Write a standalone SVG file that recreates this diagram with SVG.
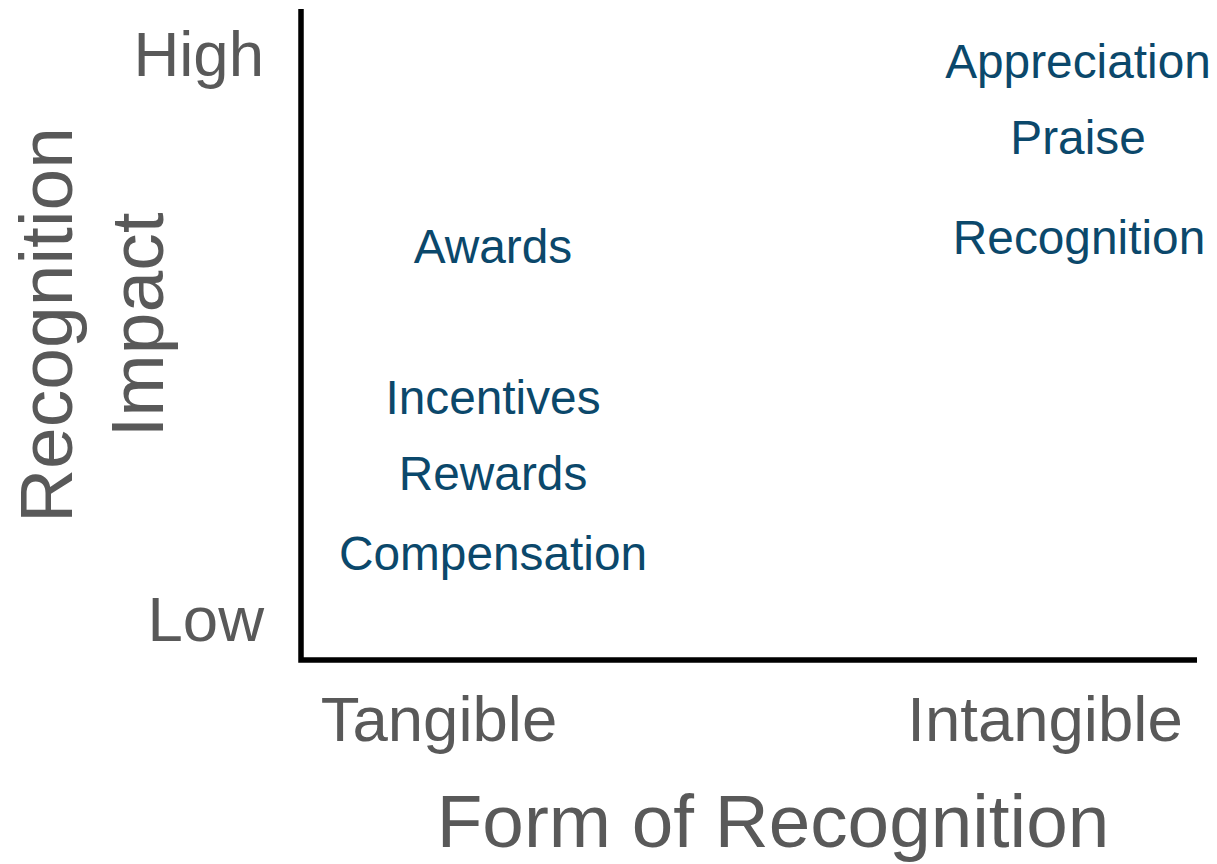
<svg xmlns="http://www.w3.org/2000/svg" width="1217" height="864" viewBox="0 0 1217 864">
  <style>
    .axis { stroke: #000000; stroke-width: 5.5; fill: none; }
    .ax-label { font-family: "Liberation Sans", Arial, sans-serif; fill: #595959; }
    .item { font-family: "Liberation Sans", Arial, sans-serif; fill: #0b486b; font-size: 47.8px; text-anchor: middle; }
  </style>
  <rect width="1217" height="864" fill="#ffffff"/>

  <!-- axes -->
  <g id="connectors">
    <path class="axis" d="M301 9 V660 H1197"/>
  </g>

  <!-- axis labels -->
  <g id="y-title">
    <text class="ax-label" font-size="75" text-anchor="middle" transform="translate(72 325) rotate(-90)">Recognition</text>
    <text class="ax-label" font-size="75" text-anchor="middle" transform="translate(163 325) rotate(-90)">Impact</text>
  </g>
  <g id="y-ticks">
    <text class="ax-label" font-size="63.5" text-anchor="end" x="264" y="76">High</text>
    <text class="ax-label" font-size="63.5" text-anchor="end" x="264" y="641">Low</text>
  </g>
  <g id="x-ticks">
    <text class="ax-label" font-size="63.5" text-anchor="middle" x="439" y="741">Tangible</text>
    <text class="ax-label" font-size="63.5" text-anchor="middle" x="1045" y="741">Intangible</text>
  </g>
  <g id="x-title">
    <text class="ax-label" font-size="74.7" text-anchor="middle" x="773" y="847">Form of Recognition</text>
  </g>

  <!-- tangible forms -->
  <g id="awards"><text class="item" x="493" y="263">Awards</text></g>
  <g id="incentives"><text class="item" x="493" y="414">Incentives</text></g>
  <g id="rewards"><text class="item" x="493" y="490">Rewards</text></g>
  <g id="compensation"><text class="item" x="493" y="570">Compensation</text></g>

  <!-- intangible forms -->
  <g id="appreciation"><text class="item" x="1078" y="78">Appreciation</text></g>
  <g id="praise"><text class="item" x="1078" y="154">Praise</text></g>
  <g id="recognition"><text class="item" x="1079" y="254">Recognition</text></g>
</svg>
